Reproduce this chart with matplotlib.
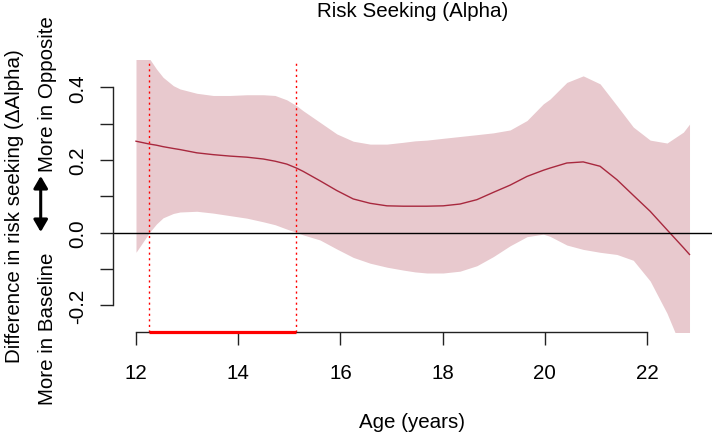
import numpy as np
import matplotlib.pyplot as plt

# values
age = [12.0, 12.27, 12.4, 12.53, 12.73, 12.86, 13.19, 13.51, 13.84, 14.17,
       14.49, 14.72, 14.95, 15.14, 15.27, 15.6, 15.93, 16.25, 16.58, 16.91,
       17.23, 17.46, 17.69, 18.01, 18.34, 18.67, 18.99, 19.32, 19.65, 19.97,
       20.1, 20.43, 20.75, 21.08, 21.41, 21.73, 22.06, 22.39, 22.71, 22.83]
est = [0.252, 0.244, 0.241, 0.237, 0.232, 0.229, 0.220, 0.215, 0.211, 0.208,
       0.203, 0.197, 0.189, 0.178, 0.169, 0.143, 0.116, 0.093, 0.081, 0.074,
       0.073, 0.073, 0.073, 0.074, 0.079, 0.091, 0.111, 0.131, 0.155, 0.172,
       0.178, 0.192, 0.195, 0.183, 0.146, 0.103, 0.059, 0.008, -0.041, -0.060]
upper = [0.54, 0.478, 0.451, 0.428, 0.405, 0.396, 0.384, 0.378, 0.378, 0.380,
         0.380, 0.378, 0.366, 0.350, 0.336, 0.304, 0.272, 0.252, 0.244, 0.244,
         0.249, 0.253, 0.255, 0.260, 0.265, 0.270, 0.275, 0.283, 0.309, 0.355,
         0.368, 0.414, 0.432, 0.410, 0.350, 0.291, 0.255, 0.247, 0.277, 0.299]
lower = [-0.054, 0.002, 0.024, 0.041, 0.053, 0.057, 0.059, 0.054, 0.047, 0.040,
         0.030, 0.022, 0.010, 0.001, -0.006, -0.020, -0.045, -0.068, -0.084, -0.095,
         -0.103, -0.108, -0.111, -0.111, -0.106, -0.091, -0.066, -0.036, -0.011, -0.004,
         -0.010, -0.034, -0.046, -0.054, -0.060, -0.076, -0.133, -0.222, -0.33, -0.40]
sig_start, sig_end = 12.25, 15.14

xticks = [12, 14, 16, 18, 20, 22]
yticks = [-0.2, -0.1, 0.0, 0.1, 0.2, 0.3, 0.4]
ylabels = ['-0.2', '', '0.0', '', '0.2', '', '0.4']

plt.rcParams['font.family'] = ['Liberation Sans', 'DejaVu Sans']
plt.rcParams['font.size'] = 14.8

W, H = 714, 435
fig = plt.figure(figsize=(W / 100, H / 100), dpi=100)
ax = fig.add_axes([113 / W, (H - 332.7) / H, (712 - 113) / W, (332.7 - 61) / H])

ax.fill_between(age, lower, upper, color='#e8c9ce', lw=0)
ax.plot(age, est, color='#a8283e', lw=1.0)
ax.axhline(0, color='black', lw=1.0)
for v in [sig_start, sig_end]:
    ax.axvline(v, color='red', lw=1.0, ls=(0, (1.5, 2.5)))
# significant age range along the x axis
ax.plot([sig_start, sig_end], [0, 0], transform=ax.get_xaxis_transform(),
        color='red', lw=2.3, clip_on=False, zorder=4, solid_capstyle='butt')

ax.set_xlim(11.55, 23.27)
ax.set_ylim(-0.2727, 0.4757)
for s in ['top', 'right']:
    ax.spines[s].set_visible(False)
ax.spines['left'].set_bounds(-0.2, 0.4)
ax.spines['bottom'].set_bounds(12, 22)
for s in ['left', 'bottom']:
    ax.spines[s].set_linewidth(1.0)
    ax.spines[s].set_color('#222222')

ax.set_xticks(xticks)
ax.set_xticklabels([str(t) for t in xticks])
ax.set_yticks(yticks)
ax.set_yticklabels(ylabels, rotation=90, va='center')
ax.tick_params(axis='both', direction='out', length=9.4, width=1.0, color='#222222')
ax.tick_params(axis='x', pad=13)
ax.tick_params(axis='y', pad=9)

fig.text(412.5 / W, (H - 17) / H, 'Risk Seeking (Alpha)', ha='center', va='baseline')
fig.text(412.5 / W, (H - 428.3) / H, 'Age (years)', ha='center', va='baseline')

fig.text(14.7 / W, (H - 206.5) / H, 'Difference in risk seeking (ΔAlpha)',
         rotation=90, ha='center', va='center')
fig.text(47.7 / W, (H - 253) / H, 'More in Baseline', rotation=90, ha='center', va='top')
fig.text(47.7 / W, (H - 172) / H, 'More in Opposite', rotation=90, ha='center', va='bottom')
ax.annotate('', xy=(40.7, H - 177), xytext=(40.7, H - 233),
            xycoords='figure pixels', textcoords='figure pixels',
            arrowprops=dict(arrowstyle='<|-|>,head_length=0.6,head_width=0.35',
                            lw=2.2, color='black', shrinkA=0, shrinkB=0, mutation_scale=12))

fig.savefig('out.png', dpi=100)
